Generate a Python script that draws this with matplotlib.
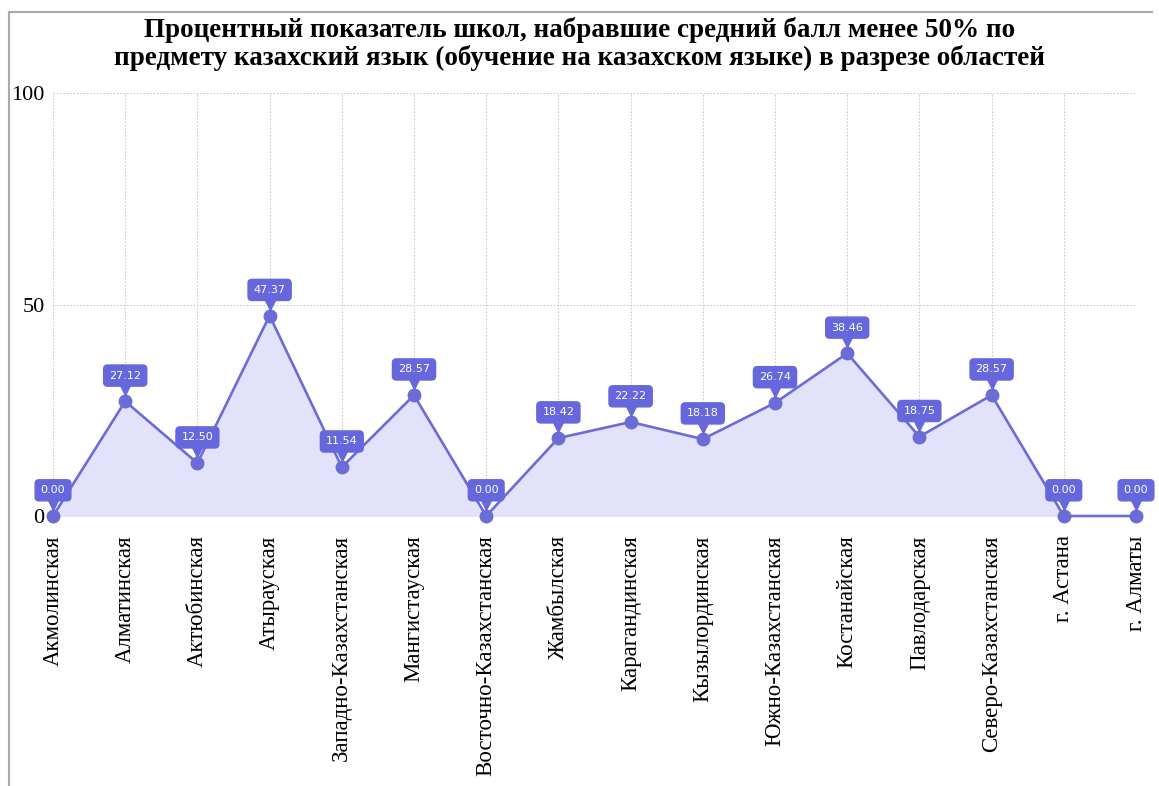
import numpy as np
import matplotlib.pyplot as plt
from matplotlib.lines import Line2D
from matplotlib.transforms import offset_copy

regions = ["Акмолинская", "Алматинская", "Актюбинская", "Атырауская",
           "Западно-Казахстанская", "Мангистауская", "Восточно-Казахстанская",
           "Жамбылская", "Карагандинская", "Кызылординская", "Южно-Казахстанская",
           "Костанайская", "Павлодарская", "Северо-Казахстанская",
           "г. Астана", "г. Алматы"]
values = [0.00, 27.12, 12.50, 47.37, 11.54, 28.57, 0.00, 18.42,
          22.22, 18.18, 26.74, 38.46, 18.75, 28.57, 0.00, 0.00]
yticks = [0, 50, 100]

title = ("Процентный показатель школ, набравшие средний балл менее 50% по\n"
         "предмету казахский язык (обучение на казахском языке) в разрезе областей")

line_color = "#6c6cd6"
fill_color = "#e2e2fb"
box_color = "#6767dd"

W, H = 1159, 786
fig = plt.figure(figsize=(W / 100, H / 100), dpi=100)
ax = fig.add_axes([53 / W, 270 / H, (1136 - 53) / W, (516 - 93) / H])

x = np.arange(len(values))
ax.fill_between(x, values, 0, color=fill_color, zorder=1)
ax.plot(x, values, color=line_color, lw=1.9, marker="o", ms=9,
        markerfacecolor=line_color, markeredgecolor=line_color, zorder=3,
        clip_on=False)

# little pointers under the value boxes
ptr = offset_copy(ax.transData, fig=fig, x=0, y=8, units="points")
ax.plot(x, values, ls="none", marker="v", ms=7, color=box_color,
        transform=ptr, zorder=4, clip_on=False)

for xi, v in zip(x, values):
    ax.annotate(f"{v:.2f}", (xi, v), xytext=(0, 18.5), textcoords="offset points",
                ha="center", va="center", fontsize=8, color="white",
                family="DejaVu Sans", zorder=5, annotation_clip=False,
                bbox=dict(boxstyle="round,pad=0.5,rounding_size=0.35",
                          fc=box_color, ec=box_color))

ax.set_xlim(0, len(values) - 1)
ax.set_ylim(0, 100)
ax.set_xticks(x)
ax.set_xticklabels(regions, rotation=90, family="Liberation Serif", fontsize=16.5)
ax.set_yticks(yticks)
ax.set_yticklabels([str(t) for t in yticks], family="Liberation Serif", fontsize=16)
ax.tick_params(axis="x", length=0, pad=14)
ax.tick_params(axis="y", length=0, pad=6)
ax.grid(True, color="#cccccc", ls=(0, (1.5, 1.5)), lw=0.8, zorder=0)
ax.set_axisbelow(True)
for s in ax.spines.values():
    s.set_visible(False)

fig.text(0.5, 1 - 44 / H, title, ha="center", va="center",
         family="Liberation Serif", fontweight="bold", fontsize=19.5,
         linespacing=1.08)

# screenshot frame
fig.add_artist(Line2D([9 / W, 9 / W], [0, 1 - 12 / H], color="#aaaaaa", lw=1.5))
fig.add_artist(Line2D([9 / W, 1152 / W], [1 - 12 / H, 1 - 12 / H], color="#aaaaaa", lw=1.5))

fig.savefig("out.png", dpi=100, facecolor="white")
